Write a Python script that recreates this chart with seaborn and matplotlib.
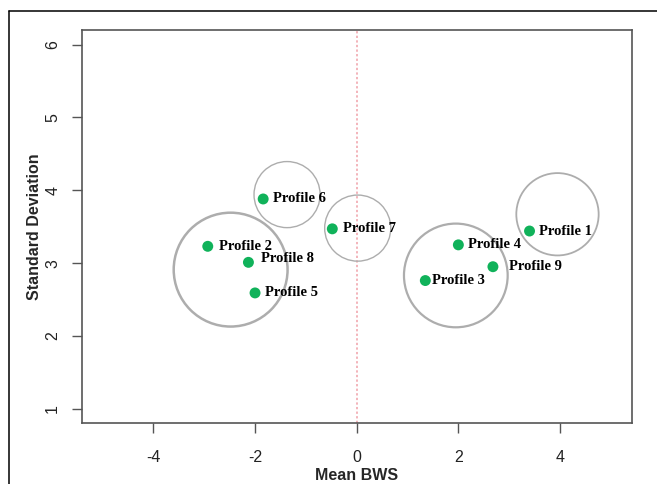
import matplotlib
matplotlib.use("Agg")
import matplotlib.pyplot as plt
from matplotlib.patches import Ellipse
from matplotlib.lines import Line2D
import pandas as pd
import seaborn as sns

# Profile positions: mean best-worst score vs. its standard deviation
profiles = ["Profile 1", "Profile 2", "Profile 3", "Profile 4", "Profile 5",
            "Profile 6", "Profile 7", "Profile 8", "Profile 9"]
mean_bws = [3.40, -2.93, 1.35, 2.00, -2.00, -1.84, -0.48, -2.13, 2.68]
std_dev = [3.44, 3.23, 2.76, 3.25, 2.59, 3.88, 3.47, 3.01, 2.95]

# Cluster outlines (centre and radius, radius in Mean BWS units)
cluster_x = [-2.48, -1.37, 0.02, 1.95, 3.95]
cluster_y = [2.91, 3.94, 3.48, 2.83, 3.67]
cluster_r = [1.12, 0.65, 0.65, 1.02, 0.81]

x_ticks = [-4, -2, 0, 2, 4]
y_ticks = [1, 2, 3, 4, 5, 6]

# styling
circle_lw = [1.8, 1.0, 1.0, 1.6, 1.3]
label_dx = [7, 8, 5, 7, 7, 7, 7.5, 9, 11.5]
label_dy = [0, 0, 0, 0, 0, 0, 0, 2.5, 0]

sns.set_theme(style="white")
plt.rcParams["font.family"] = ["Liberation Sans", "DejaVu Sans"]

df = pd.DataFrame({"profile": profiles, "mean_bws": mean_bws, "std_dev": std_dev})

W, H = 657, 484
fig = plt.figure(figsize=(W / 100, H / 100), dpi=100)
left, right, top, bottom = 81.7, 631.7, 30.0, 423.3
ax = fig.add_axes([left / W, 1 - bottom / H, (right - left) / W, (bottom - top) / H])

xlim = (-5.41, 5.41)
ylim = (0.8, 6.2)
ax.set_xlim(*xlim)
ax.set_ylim(*ylim)

# reference line at zero
ax.axvline(0, color="#f0a0a8", lw=1.1, ls=(0, (1.5, 1.5)), zorder=1)

# circles drawn round in screen space
px_per_x = (right - left) / (xlim[1] - xlim[0])
px_per_y = (bottom - top) / (ylim[1] - ylim[0])
for cx, cy, r, lw in zip(cluster_x, cluster_y, cluster_r, circle_lw):
    ax.add_patch(Ellipse((cx, cy), 2 * r, 2 * r * px_per_x / px_per_y,
                         fill=False, edgecolor="#adadad", lw=lw, zorder=2))

sns.scatterplot(data=df, x="mean_bws", y="std_dev", color="#10b25a", s=62,
                edgecolor="none", ax=ax, zorder=3, legend=False)

for name, x, y, dx, dy in zip(profiles, mean_bws, std_dev, label_dx, label_dy):
    ax.annotate(name, (x, y), xytext=(dx, dy), textcoords="offset points",
                ha="left", va="center", fontsize=10.5, fontweight="bold",
                family=["Liberation Serif", "DejaVu Serif"], color="black", zorder=4)

ax.set_xticks(x_ticks)
ax.set_yticks(y_ticks)
ax.set_xticklabels([str(v) for v in x_ticks])
ax.set_yticklabels([str(v) for v in y_ticks], rotation=90, va="center")
ax.tick_params(axis="both", which="major", direction="out", length=7.5, width=1.0,
               color="#555555", labelsize=11.5, labelcolor="#222222",
               bottom=True, left=True)
ax.tick_params(axis="x", pad=11.5)
ax.tick_params(axis="y", pad=8)

for sp in ax.spines.values():
    sp.set_color("#555555")
    sp.set_linewidth(1.2)

ax.set_xlabel("Mean BWS", fontsize=11.5, fontweight="bold", labelpad=2.5)
ax.set_ylabel("Standard Deviation", fontsize=11.5, fontweight="bold", labelpad=2)

# outer frame (left and top edges)
fx, fy = 9 / W, 1 - 11 / H
fig.add_artist(Line2D([fx, fx], [0, fy], transform=fig.transFigure, color="black", lw=1.1))
fig.add_artist(Line2D([fx, 1], [fy, fy], transform=fig.transFigure, color="black", lw=1.1))

fig.savefig("out.png", dpi=100, facecolor="white")
